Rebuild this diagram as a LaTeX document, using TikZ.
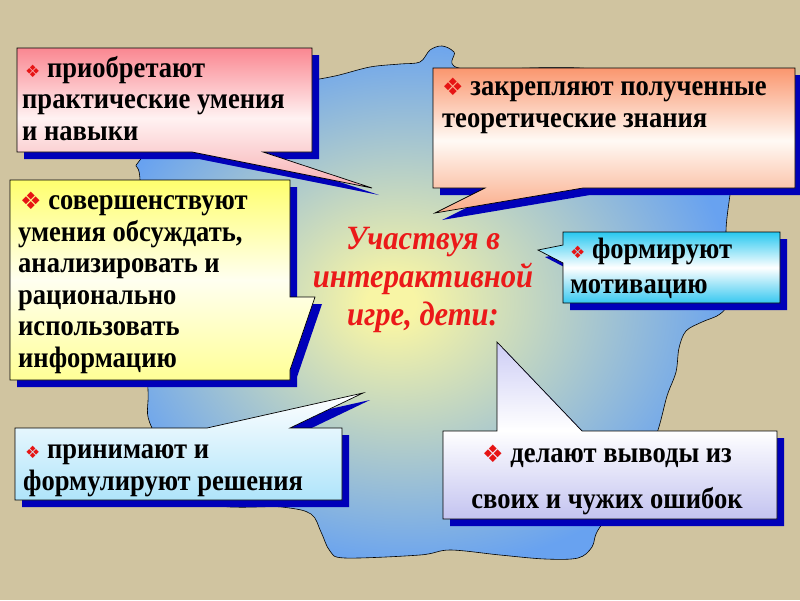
\documentclass[tikz,border=0pt]{standalone}
\usepackage{fontspec}
\setmainfont{Liberation Serif}[FakeStretch=0.9]
\newfontfamily\symfont{DejaVu Sans}
\usetikzlibrary{positioning}
\definecolor{sand}{RGB}{208,196,160}
\definecolor{shadowblue}{RGB}{0,0,185}
\definecolor{seablue}{RGB}{104,162,240}
\definecolor{seayellow}{RGB}{248,245,165}
\definecolor{bulletred}{RGB}{230,20,20}
\definecolor{titlered}{RGB}{235,25,25}
\pgfdeclareradialshading{seashade}{\pgfpoint{-4bp}{0bp}}{color(0bp)=(seayellow); color(2bp)=(seayellow); color(26bp)=(seablue); color(50bp)=(seablue)}
\tikzset{boxline/.style={draw=black, line width=0.7pt}}
\tikzset{boxtext/.style={anchor=base west, inner sep=0pt, align=left, font=\fontsize{29.5}{31.5}\selectfont\bfseries}}
\tikzset{pinkfill/.style={top color={rgb,255:red,250;green,135;blue,145}, bottom color={rgb,255:red,248;green,175;blue,178}, middle color={rgb,255:red,255;green,242;blue,242}}}
\tikzset{salmonfill/.style={top color={rgb,255:red,250;green,150;blue,110}, bottom color={rgb,255:red,250;green,170;blue,135}, middle color={rgb,255:red,255;green,250;blue,245}}}
\tikzset{yellowfill/.style={top color={rgb,255:red,255;green,255;blue,110}, bottom color={rgb,255:red,255;green,255;blue,150}, middle color={rgb,255:red,255;green,255;blue,240}}}
\tikzset{cyanfill/.style={top color={rgb,255:red,40;green,200;blue,240}, bottom color={rgb,255:red,55;green,200;blue,240}, middle color=white}}
\tikzset{icefill/.style={top color=white, bottom color={rgb,255:red,175;green,228;blue,250}}}
\tikzset{lavenderfill/.style={top color={rgb,255:red,205;green,205;blue,245}, bottom color={rgb,255:red,195;green,195;blue,240}, middle color=white}}
\newcommand\bul{{\symfont\color{bulletred}\fontsize{17}{17}\selectfont ❖}}
\newcommand\bigbul{{\symfont\color{bulletred}\fontsize{24}{24}\selectfont ❖}}
\newcommand\callout[2][]{
			\fill[shadowblue, shift={(7,7)}] #2;
			\shade[#1] #2;
			\draw[boxline] #2;
			}

\begin{document}
\begin{tikzpicture}[x=1pt, y=-1pt]
	\fill[sand] (0,0) rectangle (800,600);
	\useasboundingbox (0,0) rectangle (800,600);
	% sea
	\shade[shading=seashade, draw=black, line width=0.6pt] plot[smooth cycle, tension=0.55] coordinates {
		(300,82) (335,76) (370,67) (400,64) (420,62) (430,50) (442,46) (454,52) (464,69)
		(600,70) (726,110) (726,232) (726,300) (720,314) (702,322) (686,331) (679,348)
		(676,372) (667,396) (658,430) (640,480) (600,527) (592,547) (578,558) (545,559)
		(500,555) (450,550) (420,555) (345,558) (330,551) (321,532) (311,514) (282,507)
		(200,500) (152,428) (148,390) (145,300) (140,180) (140,160) (200,100) (260,86)};
	% callouts
	\callout[pinkfill]{(17,48) -- (312,48) -- (312,152) -- (263,152) -- (372,188) -- (192,152) -- (17,152) -- cycle}
	\callout[salmonfill]{(433,68) -- (795,68) -- (795,188) -- (583,188) -- (435,213) -- (485,188) -- (433,188) -- cycle}
	\callout[yellowfill]{(10,180) -- (290,180) -- (290,297) -- (315,297) -- (290,370) -- (290,380) -- (10,380) -- cycle}
	\callout[cyanfill]{(563,232) -- (780,232) -- (780,303) -- (563,303) -- (563,263) -- (538,250) -- (563,245) -- cycle}
	\callout[icefill]{(15,428) -- (207,428) -- (363,393) -- (290,428) -- (342,428) -- (342,500) -- (15,500) -- cycle}
	\callout[lavenderfill]{(443,431) -- (497,431) -- (497,342) -- (582,431) -- (777,431) -- (777,519) -- (443,519) -- cycle}
	% texts (placed at the baseline of their last line)
	\node[boxtext] (skills) at (22,140) {\hspace*{3pt}\bul\ приобретают\\практические умения\\и навыки};
	\node[boxtext] (theory) at (442,127) {\bigbul\ закрепляют полученные\\теоретические знания};
	\node[boxtext] (discuss) at (18,367) {\hspace*{2pt}\bigbul\ совершенствуют\\умения обсуждать,\\анализировать и\\рационально\\использовать\\информацию};
	\node[boxtext, font=\fontsize{29.5}{35}\selectfont\bfseries] (motive) at (570,293) {\bul\ формируют\\мотивацию};
	\node[boxtext] (decide) at (23,490) {\hspace*{2pt}\bul\ принимают и\\формулируют решения};
	\node[boxtext, anchor=base, align=center, font=\fontsize{29.5}{46}\selectfont\bfseries] (errors) at (607,508) {\bigbul\ делают выводы из\\своих и чужих ошибок};
	\node[align=center, inner sep=0pt, anchor=base, text=titlered, font=\fontsize{34}{38}\selectfont\bfseries\itshape] (title) at (423,325) {Участвуя в\\интерактивной\\игре, дети:};
\end{tikzpicture}
\end{document}
